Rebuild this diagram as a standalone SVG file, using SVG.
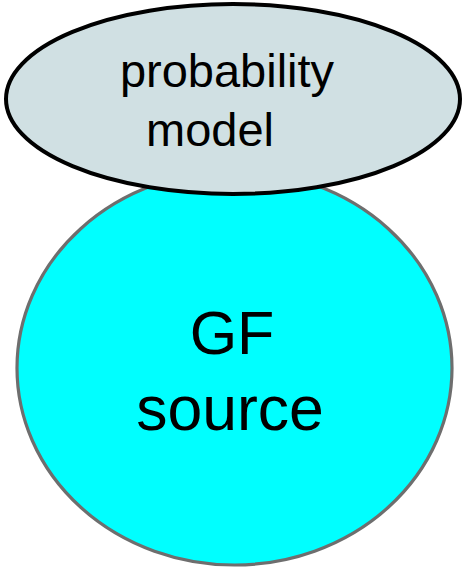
<svg xmlns="http://www.w3.org/2000/svg" width="462" height="568" viewBox="0 0 462 568">
  <style>
    .label { font-family: "Liberation Sans", Arial, sans-serif; fill: #000000; text-anchor: middle; }
  </style>
  <rect width="462" height="568" fill="#ffffff"/>
  <g id="connectors"></g>
  <g id="gf-source">
    <ellipse cx="234.5" cy="368" rx="217.5" ry="197" fill="#00ffff" stroke="#6e6e6e" stroke-width="3.2"/>
    <text class="label" x="232" y="354" font-size="61">GF</text>
    <text class="label" x="230" y="430" font-size="62.5">source</text>
  </g>
  <g id="probability-model">
    <ellipse cx="233" cy="99" rx="227" ry="95" fill="#d0e0e3" stroke="#000000" stroke-width="4"/>
    <text class="label" x="227" y="87" font-size="47">probability</text>
    <text class="label" x="210" y="146" font-size="47">model</text>
  </g>
</svg>
